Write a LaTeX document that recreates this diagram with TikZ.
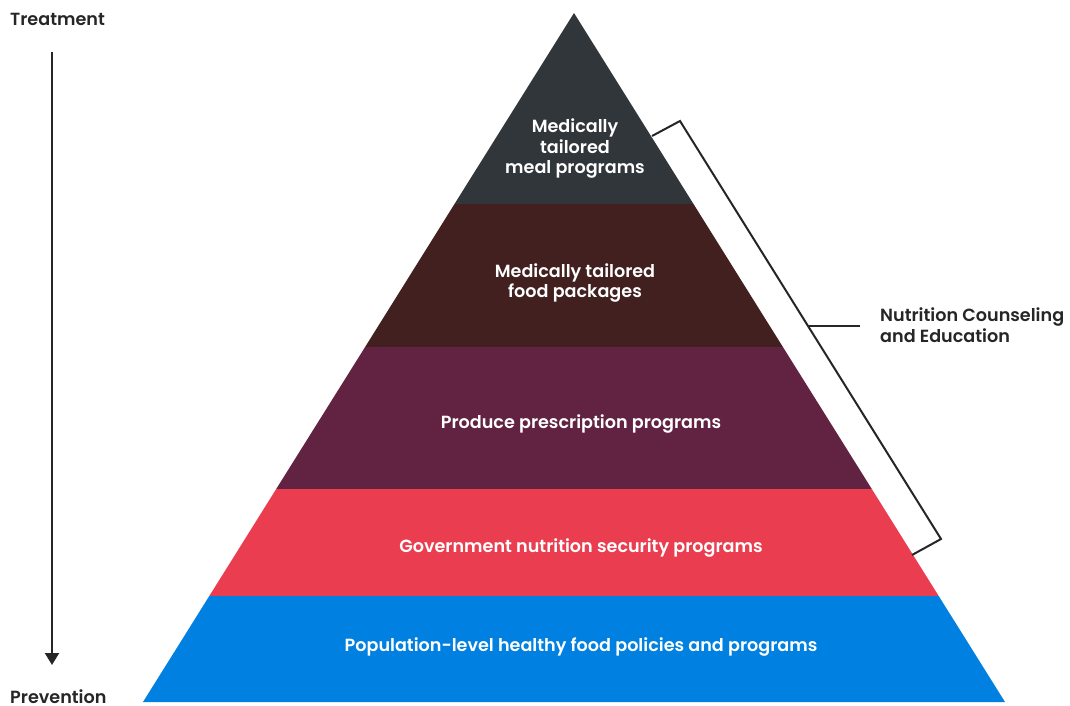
\documentclass[tikz,border=0pt]{standalone}
\usepackage{fontspec}
\setmainfont{Poppins}[UprightFont={* SemiBold},BoldFont={* Bold}]
\usetikzlibrary{arrows.meta}
\definecolor{cTop}{HTML}{31363A}
\definecolor{cTwo}{HTML}{41201F}
\definecolor{cThree}{HTML}{622342}
\definecolor{cFour}{HTML}{EB3D50}
\definecolor{cFive}{HTML}{0080E0}
\definecolor{ink}{HTML}{262626}
\tikzset{
  bandtext/.style={text=white, font=\fontsize{17.6}{20.5}\selectfont, align=center, inner sep=0pt},
  sidetext/.style={text=ink, font=\fontsize{17.6}{20.5}\selectfont, inner sep=0pt},
  bracketline/.style={draw=ink, line width=2pt, line join=miter},
}
\begin{document}
\begin{tikzpicture}[x=1pt,y=-1pt]
\useasboundingbox (0,0) rectangle (1070,706);
% bands
\fill[cTop] (574,13) -- (693.5,204) -- (454.5,204) -- cycle;
\fill[cTwo] (454.5,204) -- (693.5,204) -- (782.9,347) -- (365.1,347) -- cycle;
\fill[cThree] (365.1,347) -- (782.9,347) -- (871.8,489) -- (276.2,489) -- cycle;
\fill[cFour] (276.2,489) -- (871.8,489) -- (938.7,596) -- (209.3,596) -- cycle;
\fill[cFive] (209.3,596) -- (938.7,596) -- (1005,702) -- (143,702) -- cycle;
% band labels
\node[bandtext] (l1) at (575,149) {Medically\\tailored\\meal programs};
\node[bandtext] (l2) at (575,283) {Medically tailored\\food packages};
\node[bandtext] (l3) at (581,423.5) {Produce prescription programs};
\node[bandtext] (l4) at (581,547.5) {Government nutrition security programs};
\node[bandtext] (l5) at (581,646.5) {Population-level healthy food policies and programs};
% bracket
\coordinate (bt0) at (652,136);
\coordinate (bt1) at (680,121);
\coordinate (bb1) at (941,539);
\coordinate (bb0) at (912,555);
\coordinate (bm0) at (808.5,326);
\coordinate (bm1) at (860,326);
\draw[bracketline] (bt0) -- (bt1) -- (bb1) -- (bb0);
\draw[bracketline] (bm0) -- (bm1);
\node[sidetext, anchor=west, align=left] (nce) at (880,325) {Nutrition Counseling\\and Education};
% axis
\node[sidetext, anchor=base west] (treat) at (10,26) {Treatment};
\node[sidetext, anchor=base west, text depth=0pt] (prev) at (10,703.5) {Prevention};
\coordinate (a0) at (52,52);
\coordinate (a1) at (52,665);
\draw[ink, line width=2pt, -{Triangle[length=12pt,width=14pt]}] (a0) -- (a1);
\end{tikzpicture}
\end{document}
